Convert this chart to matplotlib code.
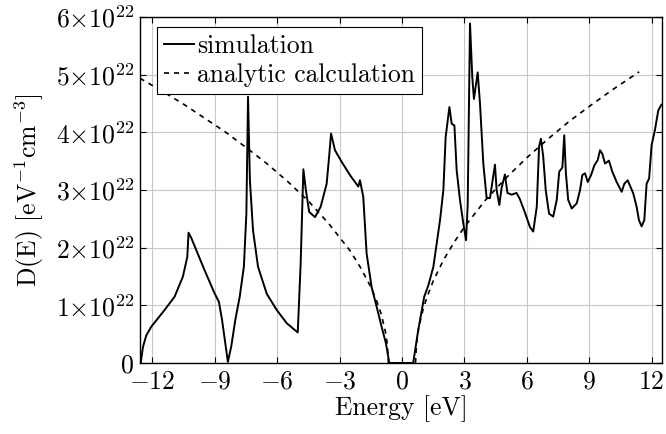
import matplotlib
matplotlib.use("Agg")
import numpy as np
import matplotlib.pyplot as plt
from matplotlib.lines import Line2D

plt.rcParams.update({
    'font.family': 'cmr10',
    'mathtext.fontset': 'cm',
    'axes.unicode_minus': False,
    'font.size': 18.5,
})

# simulated density of states (units of 1e22 eV^-1 cm^-3)
sim_energy = [-12.56, -12.45, -12.29, -12.05, -11.41, -10.93, -10.53, -10.32, -10.26, -10.13,
              -9.89, -9.49, -9.01, -8.80, -8.65, -8.49, -8.37, -8.21, -8.01, -7.80,
              -7.60, -7.48, -7.40, -7.31, -7.16, -6.92, -6.50, -6.02, -5.54, -5.01,
              -4.87, -4.74, -4.62, -4.46, -4.18, -3.91, -3.62, -3.49, -3.41, -3.22,
              -2.90, -2.50, -2.10, -2.02, -1.86, -1.70, -1.46, -1.22, -0.98, -0.77,
              -0.61, 0.54, 0.78, 1.07, 1.27, 1.51, 1.67, 1.83, 1.99, 2.10,
              2.28, 2.39, 2.52, 2.63, 2.79, 2.95, 3.08, 3.16, 3.27, 3.38,
              3.46, 3.64, 3.75, 3.91, 4.07, 4.23, 4.47, 4.55, 4.68, 4.79,
              4.95, 5.07, 5.27, 5.51, 5.67, 5.91, 6.15, 6.31, 6.48, 6.59,
              6.68, 6.79, 6.91, 7.07, 7.27, 7.44, 7.56, 7.71, 7.80, 7.88,
              7.99, 8.16, 8.40, 8.56, 8.67, 8.80, 8.93, 9.09, 9.25, 9.41,
              9.52, 9.63, 9.76, 9.95, 10.11, 10.32, 10.56, 10.69, 10.85, 10.98,
              11.12, 11.28, 11.39, 11.52, 11.65, 11.76, 11.88, 12.00, 12.16, 12.32,
              12.45, 12.55]
sim_dos = [0.0, 0.28, 0.48, 0.63, 0.92, 1.15, 1.50, 1.84, 2.26, 2.17,
           1.96, 1.61, 1.21, 1.06, 0.75, 0.34, 0.02, 0.28, 0.75, 1.15,
           1.67, 2.59, 4.62, 3.17, 2.30, 1.67, 1.20, 0.92, 0.69, 0.53,
           1.73, 3.36, 3.00, 2.62, 2.53, 2.71, 3.11, 3.63, 3.98, 3.69,
           3.49, 3.26, 3.06, 3.17, 2.88, 1.90, 1.32, 0.98, 0.63, 0.34,
           0.0, 0.0, 0.57, 1.15, 1.35, 1.67, 2.07, 2.48, 3.00, 3.92,
           4.44, 4.15, 4.12, 3.34, 2.82, 2.42, 2.13, 2.75, 5.89, 4.96,
           4.58, 5.04, 4.50, 3.46, 2.86, 2.86, 3.44, 3.00, 2.74, 3.04,
           3.27, 2.95, 2.92, 2.95, 2.84, 2.61, 2.36, 2.28, 2.71, 3.75,
           3.89, 3.58, 3.00, 2.59, 2.54, 2.83, 3.32, 3.39, 3.95, 3.29,
           2.83, 2.68, 2.77, 3.00, 3.26, 3.29, 3.14, 3.26, 3.43, 3.52,
           3.69, 3.63, 3.46, 3.51, 3.32, 3.14, 2.97, 3.11, 3.17, 3.06,
           2.94, 2.71, 2.48, 2.37, 2.48, 3.11, 3.20, 3.78, 4.04, 4.38,
           4.47, 4.50]

# analytic calculation, valence side and conduction side
ana_energy_v = [-12.6, -11.5, -10.5, -9.5, -8.5, -7.5, -6.5, -5.5, -4.5, -3.5,
                -2.5, -2.0, -1.5, -1.2, -1.0, -0.8, -0.7, -0.65]
ana_dos_v = [4.94, 4.71, 4.49, 4.25, 4.01, 3.74, 3.46, 3.15, 2.81, 2.41,
             1.95, 1.66, 1.32, 1.06, 0.85, 0.55, 0.32, 0.0]
ana_energy_c = [0.65, 0.7, 0.8, 1.0, 1.2, 1.5, 2.0, 2.5, 3.0, 4.0,
                5.0, 6.0, 7.0, 8.0, 9.0, 10.0, 11.4]
ana_dos_c = [0.0, 0.34, 0.60, 0.91, 1.14, 1.42, 1.79, 2.09, 2.36, 2.82,
             3.21, 3.56, 3.88, 4.18, 4.45, 4.71, 5.05]

x_ticks = [-12, -9, -6, -3, 0, 3, 6, 9, 12]
y_ticks = [0, 1, 2, 3, 4, 5, 6]

scale = 1e22
dash = (0, (3, 3))

fig = plt.figure(figsize=(6.66, 4.34), dpi=100)
ax = fig.add_axes([0.210, 0.1636, 0.784, 0.797])

ax.plot(np.array(sim_energy), np.array(sim_dos) * scale, color='black', lw=1.4,
        label="simulation", zorder=3)
ax.plot(np.array(ana_energy_v), np.array(ana_dos_v) * scale, color='black', lw=1.2,
        linestyle=dash, zorder=3)
ax.plot(np.array(ana_energy_c), np.array(ana_dos_c) * scale, color='black', lw=1.2,
        linestyle=dash, zorder=3)

ax.set_xlim(-12.6, 12.5)
ax.set_ylim(0, 6 * scale)

ax.set_xticks(x_ticks)
ax.set_xticklabels([r"$%d$" % t if t >= 0 else r"$-%d$" % abs(t) for t in x_ticks])
ax.set_yticks([v * scale for v in y_ticks])
ax.set_yticklabels([r"$0$"] + [r"$%d{\times}10^{22}$" % v for v in y_ticks[1:]])

ax.grid(True, color='#c8c8c8', lw=0.8)
ax.set_axisbelow(True)
ax.tick_params(direction='in', length=4, width=0.8, top=True, right=True, pad=4)
ax.tick_params(axis='x', pad=5)
for s in ax.spines.values():
    s.set_linewidth(1.0)

ax.set_xlabel("Energy [eV]", labelpad=1)
ax.set_ylabel(r"D(E) [eV$^{-1}$cm$^{-3}$]", labelpad=7)

handles = [Line2D([], [], color='black', lw=1.4),
           Line2D([], [], color='black', lw=1.2, linestyle=dash)]
leg = ax.legend(handles, ["simulation", "analytic calculation"], loc='upper left',
                bbox_to_anchor=(0.033, 0.971), borderaxespad=0, fancybox=False,
                framealpha=1, edgecolor='black', handlelength=1.15, handletextpad=0.12,
                labelspacing=0.2, borderpad=0.28)
leg.get_frame().set_linewidth(0.8)

fig.savefig("out.png", dpi=100)
